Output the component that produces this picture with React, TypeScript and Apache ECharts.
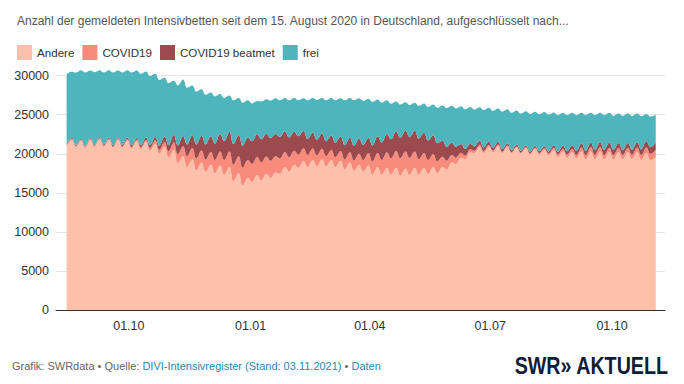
import React, { useEffect, useRef } from "react";
import * as echarts from "echarts";

// Half-week samples from 15.08.2020 (index i -> day round(3.5 * i)) to 03.11.2021
const andere = [
  21000, 21800, 20900, 21700, 20800, 21800, 20900, 21900, 20900, 21800, 20800, 21800, 20800, 21700, 20700, 21600, 20600, 21500, 20400, 21300,
  20000, 20900, 19500, 20500, 18800, 19700, 18300, 19300, 17900, 18900, 17700, 18600, 17500, 18500, 17300, 18300, 16500, 17500, 15900, 16900,
  16400, 17300, 16600, 17400, 16900, 17600, 17400, 18300, 17700, 18600, 18200, 19100, 18300, 19200, 18400, 19300, 18400, 19200, 18300, 19100,
  18000, 18900, 17800, 18600, 17700, 18500, 17300, 18300, 17300, 18200, 17300, 18200, 17200, 18100, 17300, 18200, 17300, 18200, 17400, 18300,
  17500, 18300, 18000, 18900, 18700, 19500, 19300, 20200, 20100, 20900, 20100, 20900, 20200, 21000, 20100, 20900, 20050, 20800, 20000, 20700,
  19900, 20600, 19900, 20500, 19800, 20500, 19600, 20300, 19500, 20200, 19400, 20300, 19300, 20300, 19300, 20300, 19300, 20200, 19300, 20200,
  19300, 20200, 19300, 20200, 19200, 20100, 19200, 19600,
];
const covid19 = [
  120, 115, 110, 110, 110, 115, 120, 125, 130, 140, 150, 160, 170, 175, 180, 200, 230, 280, 330, 420,
  500, 650, 800, 980, 1150, 1280, 1400, 1450, 1500, 1520, 1550, 1620, 1700, 1800, 1900, 2000, 2100, 2200, 2300, 2300,
  2300, 2300, 2300, 2250, 2200, 2100, 2000, 1920, 1850, 1780, 1700, 1620, 1550, 1480, 1400, 1350, 1300, 1280, 1250, 1250,
  1250, 1300, 1350, 1420, 1500, 1600, 1700, 1800, 1900, 2000, 2100, 2150, 2200, 2180, 2150, 2080, 2000, 1900, 1800, 1680,
  1550, 1320, 1100, 950, 800, 620, 450, 380, 300, 270, 250, 220, 200, 185, 170, 160, 150, 150, 150, 155,
  160, 175, 190, 215, 240, 280, 320, 360, 400, 430, 470, 500, 520, 535, 550, 555, 560, 555, 550, 540,
  530, 545, 560, 600, 640, 720, 800, 900,
];
const covid19Beatmet = [
  130, 125, 120, 120, 120, 125, 130, 135, 140, 150, 160, 175, 190, 200, 210, 235, 260, 300, 350, 430,
  520, 650, 800, 950, 1100, 1300, 1500, 1650, 1800, 1880, 1950, 2020, 2100, 2250, 2400, 2520, 2650, 2720, 2800, 2850,
  2900, 2920, 2950, 2930, 2900, 2820, 2750, 2650, 2550, 2450, 2350, 2200, 2050, 2020, 2000, 1950, 1900, 1870, 1850, 1850,
  1850, 1870, 1880, 1910, 1950, 2000, 2050, 2150, 2250, 2350, 2450, 2550, 2650, 2680, 2700, 2680, 2650, 2580, 2500, 2400,
  2300, 2050, 1800, 1600, 1400, 1120, 850, 700, 550, 500, 450, 410, 380, 350, 320, 290, 260, 245, 230, 225,
  220, 225, 230, 250, 270, 300, 330, 370, 420, 460, 500, 535, 570, 595, 620, 635, 650, 650, 650, 645,
  640, 645, 650, 685, 720, 780, 850, 950,
];
// total reported ICU beds (top edge of the stack)
const gesamt = [
  30200, 30500, 30400, 30700, 30400, 30650, 30450, 30700, 30400, 30700, 30400, 30650, 30400, 30700, 30400, 30650, 30250, 30550, 29950, 30250,
  29450, 29750, 29050, 29350, 28750, 29500, 28450, 28750, 27950, 28250, 27550, 27850, 27350, 27650, 27150, 27450, 26850, 27150, 26550, 26850,
  26450, 26750, 26700, 27000, 26800, 27100, 26850, 27150, 26850, 27150, 26850, 27100, 26850, 27150, 26900, 27150, 26850, 27150, 26850, 27100,
  26850, 27150, 26850, 27100, 26750, 27050, 26650, 26950, 26550, 26850, 26400, 26700, 26300, 26600, 26250, 26550, 26150, 26450, 26000, 26300,
  25900, 26200, 25850, 26150, 25800, 26100, 25700, 26000, 25650, 25950, 25600, 25900, 25500, 25800, 25400, 25700, 25250, 25550, 25150, 25450,
  25100, 25400, 25050, 25350, 25000, 25300, 24950, 25250, 24950, 25250, 24950, 25250, 24950, 25250, 24950, 25250, 24950, 25250, 24850, 25150,
  24850, 25150, 24850, 25150, 24800, 25100, 24750, 25000,
];
const seriesNames = ["Andere", "COVID19", "COVID19 beatmet", "frei"];
const seriesColors = ["#fdc0aa", "#f98b7c", "#9c4a4e", "#4fb5bd"];
const labelMonths = [0, 3, 6, 9]; // 01.01, 01.04, 01.07, 01.10
const titleText =
  "Anzahl der gemeldeten Intensivbetten seit dem 15. August 2020 in Deutschland, aufgeschlüsselt nach...";

const FONT = "'Liberation Sans', Arial, sans-serif";
const DAY = 86400000;

export default function App() {
  const ref = useRef<HTMLDivElement>(null);
  useEffect(() => {
    if (!ref.current) return;
    const chart = echarts.init(ref.current, null, { renderer: "svg" });
    const dates = andere.map((_, i) => new Date(2020, 7, 15 + Math.round(i * 3.5)).getTime());
    const frei = gesamt.map((g, i) => g - andere[i] - covid19[i] - covid19Beatmet[i]);
    const values = [andere, covid19, covid19Beatmet, frei];
    const pad = (n: number) => (n < 10 ? "0" + n : "" + n);
    chart.setOption({
      animation: false,
      textStyle: { fontFamily: FONT },
      title: {
        text: titleText,
        left: 12,
        top: 10,
        textStyle: { fontSize: 12, fontWeight: "normal", color: "#555", fontFamily: FONT },
      },
      legend: {
        left: 12,
        top: 40,
        icon: "rect",
        itemWidth: 15,
        itemHeight: 15,
        itemGap: 8,
        textStyle: { fontSize: 11.6, color: "#333", fontFamily: FONT },
        data: seriesNames,
      },
      grid: { left: 56, right: 19, top: 75.7, bottom: 74 },
      xAxis: {
        type: "time",
        min: new Date(2020, 7, 7).getTime(),
        max: new Date(2021, 10, 10).getTime(),
        minInterval: 28 * DAY,
        maxInterval: 31 * DAY,
        axisLine: { lineStyle: { color: "#333", width: 1 } },
        axisTick: { show: false },
        splitLine: { show: false },
        axisLabel: {
          formatter: (v: number) => {
            const d = new Date(v);
            if (d.getDate() !== 1 || labelMonths.indexOf(d.getMonth()) < 0) return "";
            return pad(d.getDate()) + "." + pad(d.getMonth() + 1);
          },
          showMinLabel: false,
          showMaxLabel: false,
          color: "#333",
          fontSize: 12.5,
          margin: 9,
          fontFamily: FONT,
        },
      },
      yAxis: {
        type: "value",
        min: 0,
        max: 30000,
        interval: 5000,
        axisLine: { show: false },
        axisTick: { show: false },
        splitLine: { lineStyle: { color: "#e4e4e4", width: 1 } },
        axisLabel: {
          color: "#333",
          fontSize: 12.5,
          margin: 7,
          fontFamily: FONT,
          formatter: (v: number) => String(v),
        },
      },
      series: seriesNames.map((name, k) => ({
        name,
        type: "line",
        stack: "total",
        smooth: 0.4,
        clip: false,
        showSymbol: false,
        symbol: "none",
        lineStyle: { width: 0 },
        areaStyle: { color: seriesColors[k], opacity: 1 },
        itemStyle: { color: seriesColors[k] },
        data: dates.map((d, i) => [d, values[k][i]]),
      })),
      graphic: [
        {
          type: "text",
          left: 12,
          top: 360,
          style: {
            text: "{g|Grafik: SWRdata • Quelle: }{l|DIVI-Intensivregister (Stand: 03.11.2021)}{g| • }{l|Daten}",
            rich: {
              g: { fill: "#666", fontSize: 11, fontFamily: FONT },
              l: { fill: "#2b87b3", fontSize: 11, fontFamily: FONT },
            },
          },
        },
        {
          type: "text",
          x: 668,
          y: 366,
          scaleX: 0.82,
          style: {
            text: "SWR» AKTUELL",
            fill: "#0c1d3a",
            fontSize: 24,
            fontWeight: 900,
            fontFamily: FONT,
            align: "right",
            verticalAlign: "middle",
          },
        },
      ],
    });
    return () => chart.dispose();
  }, []);
  return (
    <div
      ref={ref}
      style={{ position: "fixed", left: 0, top: 0, width: 684, height: 384, background: "#fff" }}
    />
  );
}
